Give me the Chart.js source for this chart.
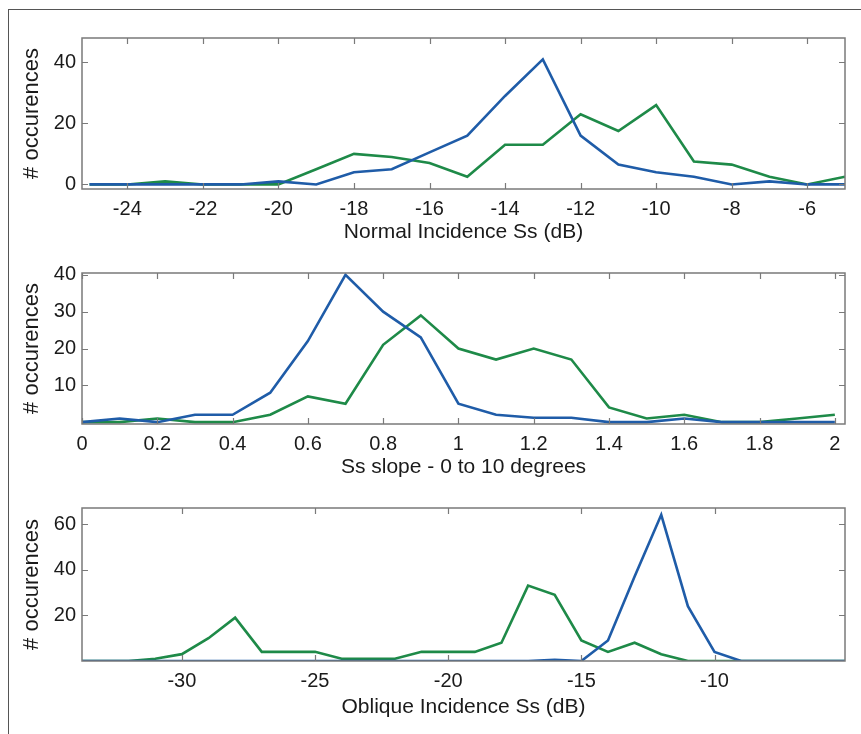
<!DOCTYPE html>
<html>
<head>
<meta charset="utf-8">
<script src="https://cdn.jsdelivr.net/npm/chart.js@4"></script>
<style>
  html, body { margin: 0; padding: 0; background: #fff; }
  #page { position: relative; width: 861px; height: 734px; overflow: hidden; }
  #frame { position: absolute; left: 8px; top: 9px; right: 0; bottom: 0; border-left: 1px solid #555; border-top: 1px solid #555; }
  canvas { position: absolute; left: 0; }
</style>
</head>
<body>
<div id="page">
  <div id="frame"></div>
  <canvas id="c1" width="861" height="245" style="top:0px"></canvas>
  <canvas id="c2" width="861" height="235" style="top:245px"></canvas>
  <canvas id="c3" width="861" height="240" style="top:480px"></canvas>
</div>
<script>
// panel 1 - normal incidence
const normalX = [-25, -24, -23, -22, -21, -20, -19, -18, -17, -16, -15, -14, -13, -12, -11, -10, -9, -8, -7, -6, -5];
const normalBlue = [0, 0, 0, 0, 0, 1, 0, 4, 5, 10.5, 16, 29, 41, 16, 6.5, 4, 2.5, 0, 1, 0, 0];
const normalGreen = [0, 0, 1, 0, 0, 0, 5, 10, 9, 7, 2.5, 13, 13, 23, 17.5, 26, 7.5, 6.5, 2.5, 0, 2.5];
const normalXTicks = [-24, -22, -20, -18, -16, -14, -12, -10, -8, -6];
const normalYTicks = [0, 20, 40];

// panel 2 - slope
const slopeX = [0, 0.1, 0.2, 0.3, 0.4, 0.5, 0.6, 0.7, 0.8, 0.9, 1, 1.1, 1.2, 1.3, 1.4, 1.5, 1.6, 1.7, 1.8, 1.9, 2];
const slopeBlue = [0, 1, 0, 2, 2, 8, 22, 40, 30, 23, 5, 2, 1.2, 1.2, 0, 0, 1, 0, 0, 0, 0];
const slopeGreen = [0, 0, 1, 0, 0, 2, 7, 5, 21, 29, 20, 17, 20, 17, 4, 1, 2, 0, 0, 1, 2];
const slopeXTicks = [0, 0.2, 0.4, 0.6, 0.8, 1, 1.2, 1.4, 1.6, 1.8, 2];
const slopeYTicks = [10, 20, 30, 40];

// panel 3 - oblique incidence
const obliqueX = [-34, -33, -32, -31, -30, -29, -28, -27, -26, -25, -24, -23, -22, -21, -20, -19, -18, -17, -16, -15, -14, -13, -12, -11, -10, -9, -8, -7, -6, -5];
const obliqueBlue = [0, 0, 0, 0, 0, 0, 0, 0, 0, 0, 0, 0, 0, 0, 0, 0, 0, 0, 0.5, 0, 9, 37, 64, 24, 4, 0, 0, 0, 0, 0];
const obliqueGreen = [0, 0, 0, 1, 3, 10, 19, 4, 4, 4, 1, 1, 1, 4, 4, 4, 8, 33, 29, 9, 4, 8, 3, 0, 0, 0, 0, 0, 0, 0];
const obliqueXTicks = [-30, -25, -20, -15, -10];
const obliqueYTicks = [20, 40, 60];

const BLUE = '#1f5ca8';
const GREEN = '#1e8a48';
const FONT = "'Liberation Sans', Arial, sans-serif";

// matlab style box with inward tick marks
const boxPlugin = {
    id: 'box',
    afterDraw(chart) {
        const ctx = chart.ctx;
        const a = chart.chartArea;
        const xs = chart.scales.x, ys = chart.scales.y;
        ctx.save();
        ctx.strokeStyle = '#7a7a7a';
        ctx.lineWidth = 1.2;
        ctx.beginPath();
        xs.ticks.forEach(t => {
            const px = Math.round(xs.getPixelForValue(t.value)) + 0.5;
            ctx.moveTo(px, a.bottom); ctx.lineTo(px, a.bottom - 6);
            ctx.moveTo(px, a.top); ctx.lineTo(px, a.top + 6);
        });
        ys.ticks.forEach(t => {
            const py = Math.round(ys.getPixelForValue(t.value)) + 0.5;
            ctx.moveTo(a.left, py); ctx.lineTo(a.left + 6, py);
            ctx.moveTo(a.right, py); ctx.lineTo(a.right - 6, py);
        });
        ctx.stroke();
        ctx.lineWidth = 1.5;
        ctx.strokeRect(a.left, a.top, a.right - a.left, a.bottom - a.top);
        ctx.restore();
    }
};

function fmt(v) {
    return String(Math.round(v * 10) / 10);
}

function makePanel(id, xs, blue, green, xTicks, yTicks, xMin, xMax, yMin, yMax, xTitle, padTop, axisH) {
    const pts = arr => xs.map((x, i) => ({ x: x, y: arr[i] }));
    new Chart(document.getElementById(id), {
        type: 'line',
        data: {
            datasets: [
                { data: pts(blue), borderColor: BLUE, borderWidth: 2.6, pointRadius: 0, tension: 0, fill: false },
                { data: pts(green), borderColor: GREEN, borderWidth: 2.6, pointRadius: 0, tension: 0, fill: false }
            ]
        },
        options: {
            responsive: false,
            animation: false,
            events: [],
            layout: { padding: { top: padTop, right: 16, bottom: 0, left: 0 } },
            plugins: { legend: { display: false }, tooltip: { enabled: false } },
            scales: {
                x: {
                    type: 'linear',
                    min: xMin,
                    max: xMax,
                    grid: { display: false, drawTicks: false },
                    border: { display: false },
                    afterBuildTicks: s => { s.ticks = xTicks.map(v => ({ value: v })); },
                    afterFit: s => { s.height = axisH; },
                    ticks: { padding: 8, color: '#1a1a1a', font: { family: FONT, size: 20 }, callback: v => fmt(v), maxRotation: 0 },
                    title: { display: true, text: xTitle, color: '#1a1a1a', font: { family: FONT, size: 21 }, padding: 0 }
                },
                y: {
                    min: yMin,
                    max: yMax,
                    grid: { display: false, drawTicks: false },
                    border: { display: false },
                    afterBuildTicks: s => { s.ticks = yTicks.map(v => ({ value: v })); },
                    afterFit: s => { s.width = 82; },
                    ticks: { padding: 6, color: '#1a1a1a', font: { family: FONT, size: 20 }, callback: v => fmt(v) },
                    title: { display: true, text: '# occurences', color: '#1a1a1a', font: { family: FONT, size: 22 }, padding: { top: 19 } }
                }
            }
        },
        plugins: [boxPlugin]
    });
}

makePanel('c1', normalX, normalBlue, normalGreen, normalXTicks, normalYTicks, -25.2, -5, -1.5, 48, 'Normal Incidence Ss (dB)', 38, 56);
makePanel('c2', slopeX, slopeBlue, slopeGreen, slopeXTicks, slopeYTicks, 0, 2.027, -0.5, 40.5, 'Ss slope - 0 to 10 degrees', 28, 56);
makePanel('c3', obliqueX, obliqueBlue, obliqueGreen, obliqueXTicks, obliqueYTicks, -33.75, -5.1, 0, 67, 'Oblique Incidence Ss (dB)', 28, 59);
</script>
</body>
</html>
